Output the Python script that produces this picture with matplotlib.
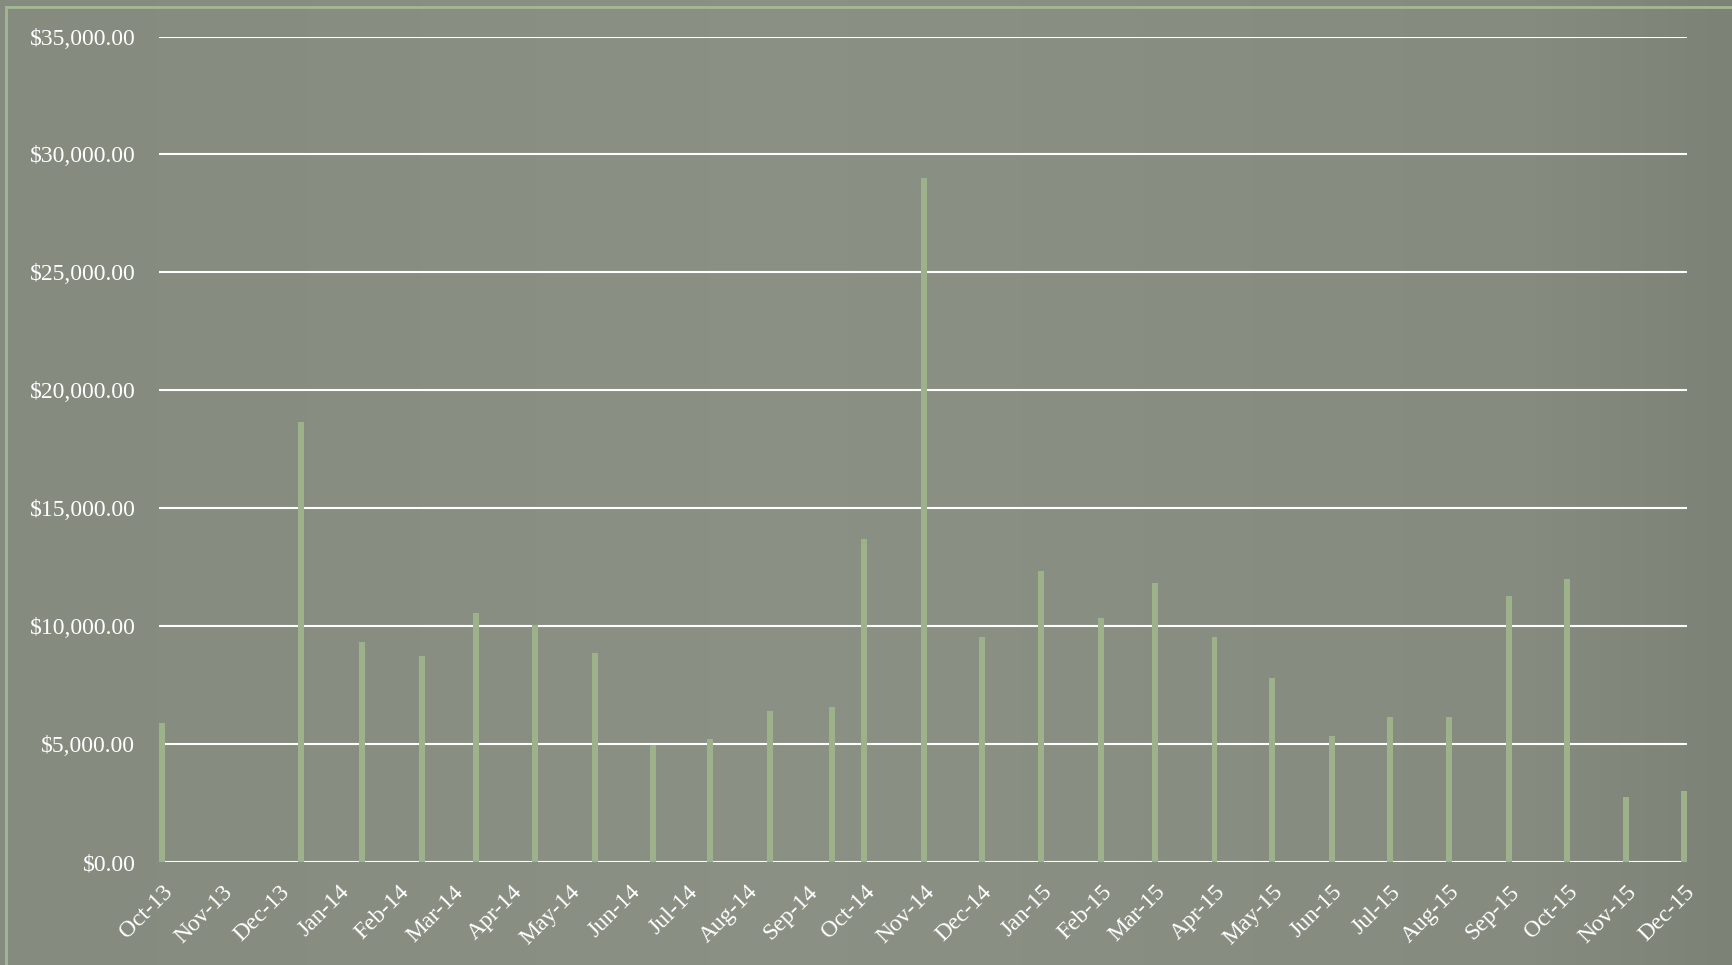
import datetime as dt

import numpy as np
import matplotlib
matplotlib.use("Agg")
import matplotlib.pyplot as plt
import matplotlib.dates as mdates
from matplotlib.ticker import FuncFormatter, MultipleLocator
from matplotlib.lines import Line2D

# payment dates and amounts
dates = [
    "2013-10-01", "2013-12-12", "2014-01-13", "2014-02-13", "2014-03-13",
    "2014-04-13", "2014-05-14", "2014-06-13", "2014-07-13", "2014-08-13",
    "2014-09-14", "2014-10-01", "2014-11-01", "2014-12-01", "2015-01-01",
    "2015-02-01", "2015-03-01", "2015-04-01", "2015-05-01", "2015-06-01",
    "2015-07-01", "2015-08-01", "2015-09-01", "2015-10-01", "2015-11-01",
    "2015-12-01",
]
amounts = [
    5900, 18650, 9320, 8720, 10550,
    10030, 8850, 4950, 5200, 6420,
    6560, 13680, 29000, 9560, 12320,
    10350, 11850, 9560, 7820, 5340,
    6140, 6140, 11290, 11990, 2760,
    3000,
]
y_max = 35000
y_step = 5000

BG = "#858b7f"
BAR = "#9db28a"
FRAME = "#a4b893"

x = [dt.datetime.strptime(d, "%Y-%m-%d") for d in dates]
bar_w = 3.1  # days

fig = plt.figure(figsize=(17.32, 9.65), dpi=100, facecolor=BG)

# soft background shading, a stand-in for the paper texture
bg = fig.add_axes([0, 0, 1, 1], zorder=-10)
gx = np.linspace(0, 1, 300)
gy = np.linspace(0, 1, 200)
shade = 0.02 * np.exp(-((gx[None, :] - 0.45) ** 2) / 0.08) - 0.035 * np.clip(gx[None, :] - 0.88, 0, 1) / 0.12
shade = shade + 0.0 * gy[:, None]
base = np.array(matplotlib.colors.to_rgb(BG))
img = np.clip(base[None, None, :] + shade[:, :, None], 0, 1)
bg.imshow(img, aspect="auto", extent=[0, 1, 0, 1])
bg.axis("off")

fig.add_artist(Line2D([6 / 1732, 1], [1 - 7 / 965, 1 - 7 / 965], transform=fig.transFigure, color=FRAME, lw=2))
fig.add_artist(Line2D([6 / 1732, 6 / 1732], [0, 1 - 7 / 965], transform=fig.transFigure, color=FRAME, lw=2))

ax = fig.add_axes([159 / 1732, 1 - 862 / 965, (1687 - 159) / 1732, (862 - 36.5) / 965])
ax.patch.set_alpha(0)

ax.bar(x, amounts, width=bar_w, color=BAR, zorder=3)

ax.set_ylim(0, y_max)
ax.yaxis.set_major_locator(MultipleLocator(y_step))
ax.yaxis.set_major_formatter(FuncFormatter(lambda v, p: "${:,.2f}".format(v)))
ax.grid(axis="y", color="white", lw=1.5, zorder=1)
ax.set_axisbelow(True)

lo = mdates.date2num(dt.datetime(2013, 10, 1)) - bar_w / 2
hi = mdates.date2num(dt.datetime(2015, 12, 1)) + bar_w / 2
ax.set_xlim(lo, hi)
ax.xaxis.set_major_locator(mdates.MonthLocator())
ax.xaxis.set_major_formatter(mdates.DateFormatter("%b-%y"))

for s in ax.spines.values():
    s.set_visible(False)
ax.tick_params(axis="both", length=0, colors="white")
ax.tick_params(axis="y", pad=17)
ax.tick_params(axis="x", pad=14)
for lab in ax.get_yticklabels():
    lab.set_fontfamily("Liberation Serif")
    lab.set_fontsize(17)
for lab in ax.get_xticklabels():
    lab.set_fontfamily("Liberation Serif")
    lab.set_fontsize(17)
    lab.set_rotation(45)
    lab.set_ha("right")
    lab.set_va("top")
    lab.set_rotation_mode("anchor")

fig.savefig("out.png", dpi=100, facecolor=BG)
